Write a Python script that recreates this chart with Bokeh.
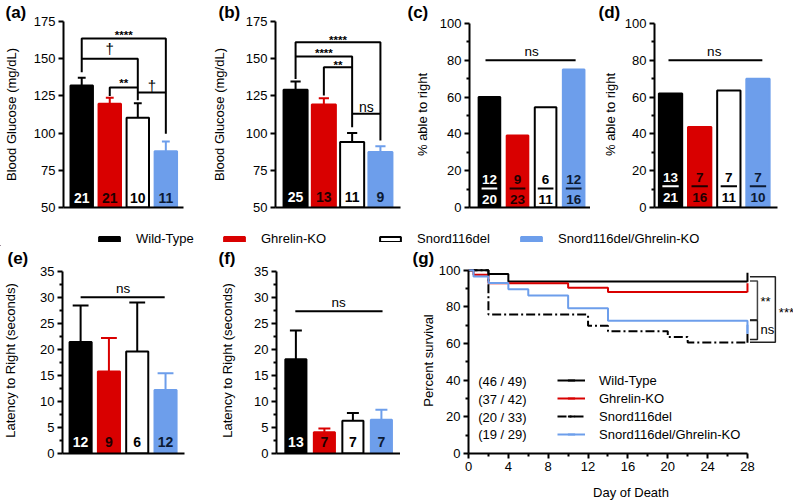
import math
from bokeh.plotting import figure
from bokeh.models import Range1d, FixedTicker, Title, Legend, LegendItem
from bokeh.layouts import row, column
from bokeh.embed import file_html
from bokeh.resources import INLINE
from bokeh.core.properties import value

FONT = "Liberation Sans"
TXT = "13px"

# ---------------- data ----------------
groups = ["Wild-Type", "Ghrelin-KO", "Snord116del", "Snord116del/Ghrelin-KO"]
fills = ["#000000", "#d90000", "#ffffff", "#6d9eeb"]
edges = ["#000000", "#d90000", "#000000", "#6d9eeb"]
inner_text = ["#ffffff", "#1e0000", "#000000", "#0c1a33"]
xpos = [1, 2, 3, 4]

glucose_a_mean = [132.0, 119.7, 110.3, 87.8]
glucose_a_upper = [137.2, 123.7, 120.1, 94.4]
glucose_a_n = [21, 21, 10, 11]

glucose_b_mean = [129.2, 119.2, 94.0, 87.3]
glucose_b_upper = [134.6, 123.4, 100.1, 91.1]
glucose_b_n = [25, 13, 11, 9]

right_c_success = [12, 9, 6, 12]
right_c_total = [20, 23, 11, 16]
right_d_success = [13, 7, 7, 7]
right_d_total = [21, 16, 11, 10]

latency_e_mean = [21.4, 15.75, 19.6, 12.2]
latency_e_upper = [28.4, 22.2, 29.0, 15.4]
latency_e_n = [12, 9, 6, 12]

latency_f_mean = [18.1, 4.1, 6.3, 6.5]
latency_f_upper = [23.6, 4.8, 7.8, 8.4]
latency_f_n = [13, 7, 7, 7]

surv_wt_day = [0, 2, 4, 28]
surv_wt_pct = [100, 98.0, 93.9, 93.9]
surv_gko_day = [0, 0.5, 2, 10, 14, 28]
surv_gko_pct = [100, 97.6, 92.9, 90.5, 88.1, 88.1]
surv_snord_day = [0, 2, 12, 14, 20, 22, 28]
surv_snord_pct = [100, 75.8, 69.7, 66.7, 63.6, 60.6, 60.6]
surv_dko_day = [0, 0.5, 2, 4, 6, 10, 14, 28]
surv_dko_pct = [100, 96.6, 93.1, 89.7, 86.2, 79.3, 72.4, 65.5]
surv_alive = [46, 37, 20, 19]
surv_total = [49, 42, 33, 29]

# significance annotations
a_br_x = [[1, 1, 4, 4], [1, 3, 3], [2, 2, 3], [3, 4, 4]]
a_br_y = [[140.9, 163.6, 163.6, 127.3], [150, 150, 122], [125, 130.6, 130.6], [127.3, 127.3, 99.5]]
a_star = ["****", "**"]
a_star_x = [2.5, 2.5]
a_star_y = [166.0, 133.5]
a_dag = ["\u2020", "\u2020"]
a_dag_x = [2, 3.5]
a_dag_y = [156.9, 132.0]

b_br_x = [[1, 1, 4, 4], [1, 3, 3], [2, 2, 3], [3, 4, 4]]
b_br_y = [[136.4, 161, 161, 113], [151.4, 151.4, 104], [125.2, 144.2, 144.2], [113, 113, 95]]
b_star = ["****", "****", "**"]
b_star_x = [2.5, 2, 2.5]
b_star_y = [162.3, 153.6, 145.8]
b_ns_x, b_ns_y = [3.5], [117.5]

g_br_x = [[28.25, 29, 29, 28.25], [28.25, 29, 29, 28.25], [28.25, 30.8, 30.8, 28.25]]
g_br_y = [[94.2, 94.2, 73.0, 73.0], [72.6, 72.6, 62.2, 62.2], [96.4, 96.4, 60.7, 60.7]]
g_br_col = ["#444444", "#222222", "#222222"]
g_marks = ["**", "ns", "***"]
g_mark_x = [29.3, 29.3, 31.15]
g_mark_y = [82.9, 67.6, 76.9]


# ---------------- layout helpers (reference pixel geometry) ----------------
def make_fig(box, frame, x_range, y_range, axes=True):
    x0, y0, x1, y1 = box
    fx0, fy0, fx1, fy1 = frame
    kw = {}
    if not axes:
        kw = dict(x_axis_location=None, y_axis_location=None)
    p = figure(width=int(round(x1 - x0)), height=int(round(y1 - y0)), x_range=x_range, y_range=y_range,
               min_border_left=int(round(fx0 - x0)), min_border_right=int(round(x1 - fx1)),
               min_border_top=int(round(fy0 - y0)), min_border_bottom=int(round(y1 - fy1)),
               toolbar_location=None, output_backend="svg", title=None, **kw)
    p.grid.visible = False
    p.outline_line_color = None
    p.background_fill_color = "white"
    p.border_fill_color = "white"
    return p


def letter(p, frame, txt, lx):
    p.title = Title(text=txt, align="left", offset=lx - frame[0], standoff=0, text_font=FONT,
                    text_font_style="bold", text_font_size="17px", text_color="black")


def style_y(p, ticks, minor, label, standoff, bounds="auto"):
    a = p.yaxis[0]
    a.ticker = FixedTicker(ticks=ticks, minor_ticks=minor)
    a.bounds = bounds
    a.axis_label = label
    a.axis_label_text_font = FONT
    a.axis_label_text_font_size = TXT
    a.axis_label_text_font_style = "normal"
    a.axis_label_text_color = "black"
    a.axis_label_standoff = standoff
    a.major_label_text_font = FONT
    a.major_label_text_font_size = TXT
    a.major_label_text_color = "black"
    a.major_label_standoff = 3
    a.axis_line_width = 2
    a.axis_line_color = "black"
    a.major_tick_line_width = 2
    a.minor_tick_line_width = 2
    a.major_tick_line_color = "black"
    a.minor_tick_line_color = "black"
    a.major_tick_out = 5
    a.major_tick_in = 0
    a.minor_tick_out = 3
    a.minor_tick_in = 0


def style_x_plain(p):
    a = p.xaxis[0]
    a.ticker = FixedTicker(ticks=[])
    a.axis_line_width = 2
    a.axis_line_color = "black"
    a.major_tick_out = 0
    a.minor_tick_out = 0
    a.major_label_text_font_size = "0px"


def tx(p, x, y, t, size=TXT, color="black", bold=False, align="center"):
    p.text(x=x, y=y, text=t, text_color=color, text_font=value(FONT), text_font_size=size,
           text_font_style="bold" if bold else "normal", text_align=align, text_baseline="middle")


def bar_panel(box, frame, xr, yr, base, means, uppers, cap_half, bw):
    p = make_fig(box, frame, Range1d(*xr), Range1d(*yr))
    p.segment(x0=xpos, y0=means, x1=xpos, y1=uppers, line_color=edges, line_width=2)
    p.segment(x0=[x - cap_half for x in xpos], y0=uppers, x1=[x + cap_half for x in xpos], y1=uppers,
              line_color=edges, line_width=2)
    p.vbar(x=xpos, bottom=base, top=means, width=bw, fill_color=fills, line_color=edges, line_width=2)
    return p


def frac_panel(box, frame, xr, yr, succ, tot, bw, ynum, yline, yden):
    p = make_fig(box, frame, Range1d(*xr), Range1d(*yr))
    pct = [100.0 * s / t for s, t in zip(succ, tot)]
    p.vbar(x=xpos, bottom=0, top=pct, width=bw, fill_color=fills, line_color=edges, line_width=2)
    tx(p, xpos, [ynum] * 4, [str(s) for s in succ], size="13.5px", color=inner_text, bold=True)
    tx(p, xpos, [yden] * 4, [str(t) for t in tot], size="13.5px", color=inner_text, bold=True)
    p.segment(x0=[x - 0.28 for x in xpos], y0=[yline] * 4, x1=[x + 0.28 for x in xpos], y1=[yline] * 4,
              line_color=inner_text, line_width=2)
    return p


# Bokeh aligns plot frames within a row, so each row shares one frame top/bottom;
# value ranges are extended (axis bounds kept) to keep the reference scale.
ROW1_TOP, ROW1_FT, ROW1_FB, ROW1_BOT = 0, 21, 207, 226
ROW2_TOP, ROW2_FT, ROW2_FB, ROW2_BOT = 246, 267.2, 456, 502

# ---------------- panel (a) ----------------
A_box, A_fr = (0, ROW1_TOP, 198, ROW1_BOT), (61, ROW1_FT, 183, ROW1_FB)
pa = bar_panel(A_box, A_fr, (0.35, 4.63), (50, 175), 50, glucose_a_mean, glucose_a_upper, 0.14, 0.80)
tx(pa, xpos, [56.5] * 4, [str(n) for n in glucose_a_n], size="14px", color=inner_text, bold=True)
pa.multi_line(xs=a_br_x, ys=a_br_y, line_color="black", line_width=2)
tx(pa, a_star_x, a_star_y, a_star, size="11.5px", bold=True)
tx(pa, a_dag_x, a_dag_y, a_dag, size="15px", color="#000000")
style_y(pa, [50, 75, 100, 125, 150, 175], [], "Blood Glucose (mg/dL)", 12)
style_x_plain(pa)
letter(pa, A_fr, "(a)", 3)

# ---------------- panel (b) ----------------
B_box, B_fr = (198, ROW1_TOP, 402, ROW1_BOT), (275, ROW1_FT, 400, ROW1_FB)
pb = bar_panel(B_box, B_fr, (0.29, 4.71), (50, 175), 50, glucose_b_mean, glucose_b_upper, 0.18, 0.85)
tx(pb, xpos, [57] * 4, [str(n) for n in glucose_b_n], size="14px", color=inner_text, bold=True)
pb.multi_line(xs=b_br_x, ys=b_br_y, line_color="black", line_width=2)
tx(pb, b_star_x, b_star_y, b_star, size="11.5px", bold=True)
tx(pb, b_ns_x, b_ns_y, ["ns"], size="14px")
style_y(pb, [50, 75, 100, 125, 150, 175], [], "Blood Glucose (mg/dL)", 16)
style_x_plain(pb)
letter(pb, B_fr, "(b)", 218)

# percent panels: 100 sits at y=23 in the reference, 2px below the shared frame top
pct_top = 100 + 2 / 1.84
pct_ticks = [0, 20, 40, 60, 80, 100]
pct_minor = [10, 30, 50, 70, 90]

# ---------------- panel (c) ----------------
C_box, C_fr = (402, ROW1_TOP, 590, ROW1_BOT), (469, ROW1_FT, 590, ROW1_FB)
pc = frac_panel(C_box, C_fr, (0.29, 4.6), (0, pct_top), right_c_success, right_c_total, 0.77, 15, 10.3, 4.3)
pc.line(x=[0.86, 4.07], y=[80, 80], line_color="black", line_width=2)
tx(pc, [2.5], [84.8], ["ns"], size="13.5px")
style_y(pc, pct_ticks, pct_minor, "% able to right", 7, bounds=(0, 100))
style_x_plain(pc)
letter(pc, C_fr, "(c)", 407)

# ---------------- panel (d) ----------------
D_box, D_fr = (590, ROW1_TOP, 793, ROW1_BOT), (654, ROW1_FT, 777, ROW1_FB)
pd_ = frac_panel(D_box, D_fr, (0.45, 4.67), (0, pct_top), right_d_success, right_d_total, 0.8, 16.5, 11.5, 5.5)
pd_.line(x=[0.93, 4.15], y=[80, 80], line_color="black", line_width=2)
tx(pd_, [2.5], [84.8], ["ns"], size="13.5px")
style_y(pd_, pct_ticks, pct_minor, "% able to right", 4, bounds=(0, 100))
style_x_plain(pd_)
letter(pd_, D_fr, "(d)", 598)

# ---------------- legend row ----------------
L_box = (0, ROW1_BOT, 793, ROW2_TOP)
pl = make_fig(L_box, L_box, Range1d(0, 1), Range1d(0, 1), axes=False)
for g, fc, lc, sx in zip(groups, fills, edges, [96, 221, 377, 518]):
    # legend-only proxy glyph, placed outside the visible range
    r = pl.vbar(x=[-5], bottom=[-6], top=[-5], width=1, fill_color=fc, line_color=lc, line_width=2)
    lg = Legend(items=[LegendItem(label=g, renderers=[r])], location=(sx, 0),
                glyph_width=26, glyph_height=6, label_height=14, label_standoff=14,
                padding=0, margin=0, spacing=0, border_line_color=None, background_fill_alpha=0,
                label_text_font=FONT, label_text_font_size=TXT, label_text_color="black")
    pl.add_layout(lg)

# latency panels: 35 sits at y=271 and 0 at y=457 in the reference
lat_unit = (457 - 271) / 35
lat_top = 35 + (271 - ROW2_FT) / lat_unit
lat_ticks = [0, 5, 10, 15, 20, 25, 30, 35]
lat_minor = [2.5, 7.5, 12.5, 17.5, 22.5, 27.5, 32.5]

# ---------------- panel (e) ----------------
E_box, E_fr = (0, ROW2_TOP, 198, ROW2_BOT), (62, ROW2_FT, 184, ROW2_FB)
pe = bar_panel(E_box, E_fr, (0.36, 4.67), (0, lat_top), 0, latency_e_mean, latency_e_upper, 0.28, 0.78)
tx(pe, xpos, [2.3] * 4, [str(n) for n in latency_e_n], size="14px", color=inner_text, bold=True)
pe.line(x=[1.0, 3.97], y=[30, 30], line_color="black", line_width=2)
tx(pe, [2.5], [31.7], ["ns"], size="13.5px")
style_y(pe, lat_ticks, lat_minor, "Latency to Right (seconds)", 19, bounds=(0, 35))
style_x_plain(pe)
letter(pe, E_fr, "(e)", 7)

# ---------------- panel (f) ----------------
F_box, F_fr = (198, ROW2_TOP, 400, ROW2_BOT), (276, ROW2_FT, 400, ROW2_FB)
pf = bar_panel(F_box, F_fr, (0.32, 4.67), (0, lat_top), 0, latency_f_mean, latency_f_upper, 0.21, 0.74)
tx(pf, xpos, [2.3] * 4, [str(n) for n in latency_f_n], size="14px", color=inner_text, bold=True)
pf.line(x=[0.98, 4.04], y=[27.3, 27.3], line_color="black", line_width=2)
tx(pf, [2.5], [29.0], ["ns"], size="13.5px")
style_y(pf, lat_ticks, lat_minor, "Latency to Right (seconds)", 16, bounds=(0, 35))
style_x_plain(pf)
letter(pf, F_fr, "(f)", 218)

# ---------------- panel (g) ----------------
G_box, G_fr = (400, ROW2_TOP, 793, ROW2_BOT), (468, ROW2_FT, 793, ROW2_FB)
g_unit = (ROW2_FB - 270) / 100
g_top = 100 + (270 - ROW2_FT) / g_unit
pg = make_fig(G_box, G_fr, Range1d(0, 32.62), Range1d(0, g_top))
curves = [(surv_wt_day, surv_wt_pct, "black", "solid"),
          (surv_gko_day, surv_gko_pct, "#d90000", "solid"),
          (surv_snord_day, surv_snord_pct, "black", "9 3 2 3"),
          (surv_dko_day, surv_dko_pct, "#6d9eeb", "solid")]
items = []
for (d, v, c, dash), g in zip(curves, groups):
    r1 = pg.step(x=d, y=v, mode="after", line_color=c, line_width=2, line_dash=dash)
    r2 = pg.scatter(x=[d[-1]], y=[v[-1] + 2.3], marker="dash", angle=math.pi / 2, size=9,
                    line_color=c, line_width=2)
    items.append(LegendItem(label=g, renderers=[r1, r2]))
ROW_H = 18
leg_bottom = ROW2_FB - 437 - ROW_H / 2
leg = Legend(items=items, location=(557 - 468, leg_bottom), glyph_width=28, glyph_height=ROW_H,
             label_height=ROW_H, label_standoff=14, spacing=0, padding=0, margin=0,
             border_line_color=None, background_fill_alpha=0,
             label_text_font=FONT, label_text_font_size=TXT, label_text_color="black")
pg.add_layout(leg)
row_y = [(leg_bottom + ROW_H * (3.5 - i)) / g_unit for i in range(4)]
tx(pg, [3.4] * 4, row_y, [f"({a} / {t})" for a, t in zip(surv_alive, surv_total)])
pg.multi_line(xs=g_br_x, ys=g_br_y, line_color=g_br_col, line_width=1.5)
tx(pg, g_mark_x, g_mark_y, g_marks, size="13px", align="left")
style_y(pg, [0, 20, 40, 60, 80, 100], [10, 30, 50, 70, 90], "Percent survival", 0, bounds=(0, 100))
xa = pg.xaxis[0]
xa.ticker = FixedTicker(ticks=[0, 4, 8, 12, 16, 20, 24, 28], minor_ticks=[2, 6, 10, 14, 18, 22, 26])
xa.bounds = (0, 28)
xa.axis_label = "Day of Death"
xa.axis_label_text_font = FONT
xa.axis_label_text_font_size = TXT
xa.axis_label_text_font_style = "normal"
xa.axis_label_text_color = "black"
xa.axis_label_standoff = 11
xa.major_label_text_font = FONT
xa.major_label_text_font_size = TXT
xa.major_label_text_color = "black"
xa.major_label_standoff = 3
xa.axis_line_width = 2
xa.major_tick_line_width = 2
xa.minor_tick_line_width = 2
xa.major_tick_out = 5
xa.major_tick_in = 0
xa.minor_tick_out = 3
xa.minor_tick_in = 0
letter(pg, G_fr, "(g)", 412)

layout = column(row(pa, pb, pc, pd_), pl, row(pe, pf, pg))
open("out.html", "w").write(file_html(layout, INLINE))
